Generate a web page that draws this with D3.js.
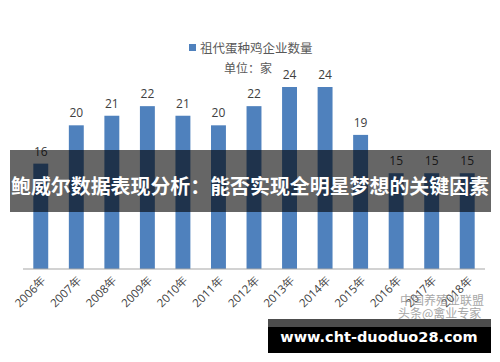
<!DOCTYPE html>
<html>
<head>
<meta charset="utf-8">
<script src="https://cdn.jsdelivr.net/npm/d3@7"></script>
<style>
  body { margin: 0; background: #fff; }
  svg { display: block; }
</style>
</head>
<body>
<div id="chart"></div>
<script>
var years = ["2006年", "2007年", "2008年", "2009年", "2010年", "2011年", "2012年",
             "2013年", "2014年", "2015年", "2016年", "2017年", "2018年"];
var counts = [16, 20, 21, 22, 21, 20, 22, 24, 24, 19, 15, 15, 15];
var seriesName = "祖代蛋种鸡企业数量";
var unitLabel = "单位：家";
var bannerTitle = "鲍威尔数据表现分析：能否实现全明星梦想的关键因素";
var siteText = "www.cht-duoduo28.com";

var width = 500, height = 362;
var barColor = "#4f81bd";
var baseY = 269;

var svg = d3.select("#chart")
    .append("svg")
    .attr("width", width)
    .attr("height", height);

svg.append("rect")
    .attr("width", width)
    .attr("height", height)
    .attr("fill", "#fff");

var x = d3.scaleBand()
    .domain(years)
    .range([23, 485])
    .paddingInner(0.58)
    .paddingOuter(0.29);

// axis in the source starts at 5, not zero
var y = d3.scaleLinear()
    .domain([5, 24])
    .range([baseY, 87]);

var g = svg.append("g");

g.selectAll("rect.bar")
    .data(counts)
    .enter().append("rect")
    .attr("class", "bar")
    .attr("x", function (d, i) { return x(years[i]); })
    .attr("y", function (d) { return y(d); })
    .attr("width", x.bandwidth())
    .attr("height", function (d) { return baseY - y(d); })
    .attr("fill", barColor);

g.selectAll("text.val")
    .data(counts)
    .enter().append("text")
    .attr("class", "val")
    .attr("x", function (d, i) { return x(years[i]) + x.bandwidth() / 2; })
    .attr("y", function (d) { return y(d) - 8; })
    .attr("text-anchor", "middle")
    .attr("font-family", "Open Sans, sans-serif")
    .attr("font-size", 12)
    .attr("fill", "#404040")
    .text(function (d) { return d; });

// baseline
var xAxis = d3.axisBottom(x).tickSize(0).tickFormat("");
var axisG = svg.append("g")
    .attr("transform", "translate(0," + baseY + ")")
    .call(xAxis);
axisG.select(".domain").attr("stroke", "#a6a6a6").attr("stroke-width", 1.2)
    .attr("d", "M23,0H485");

svg.selectAll("text.year")
    .data(years)
    .enter().append("text")
    .attr("class", "year")
    .attr("transform", function (d) {
        return "translate(" + (x(d) + x.bandwidth() / 2 + 6) + "," + (baseY + 12) + ") rotate(-45)";
    })
    .attr("text-anchor", "end")
    .attr("font-family", "Open Sans, sans-serif")
    .attr("font-size", 11.5)
    .attr("fill", "#404040")
    .text(function (d) { return d; });

// legend
svg.append("rect")
    .attr("x", 189).attr("y", 44)
    .attr("width", 7).attr("height", 7)
    .attr("fill", barColor);
svg.append("text")
    .attr("x", 200).attr("y", 53)
    .attr("font-family", "Noto Sans CJK SC, sans-serif")
    .attr("font-size", 12.5)
    .attr("fill", "#595959")
    .text(seriesName);
svg.append("text")
    .attr("x", 248).attr("y", 73)
    .attr("text-anchor", "middle")
    .attr("font-family", "Noto Sans CJK SC, sans-serif")
    .attr("font-size", 12)
    .attr("fill", "#595959")
    .text(unitLabel);

// overlay banner
svg.append("rect")
    .attr("x", 10).attr("y", 150)
    .attr("width", 481).attr("height", 62)
    .attr("fill", "rgba(0,0,0,0.6)");
svg.append("text")
    .attr("x", 250).attr("y", 194)
    .attr("text-anchor", "middle")
    .attr("font-family", "Noto Sans CJK SC, sans-serif")
    .attr("font-weight", "bold")
    .attr("font-size", 20)
    .attr("textLength", 478)
    .attr("lengthAdjust", "spacingAndGlyphs")
    .attr("fill", "#fff")
    .text(bannerTitle);

// watermark
svg.append("text")
    .attr("x", 400).attr("y", 305)
    .attr("font-family", "Noto Sans CJK SC, sans-serif")
    .attr("font-size", 12)
    .attr("fill", "#8a8a8a")
    .attr("opacity", 0.75)
    .text("中国养殖业联盟");
svg.append("text")
    .attr("x", 398).attr("y", 318)
    .attr("font-family", "Noto Sans CJK SC, sans-serif")
    .attr("font-size", 12)
    .attr("fill", "#8a8a8a")
    .attr("opacity", 0.75)
    .text("头条@禽业专家");

// site banner
svg.append("rect")
    .attr("x", 268).attr("y", 319)
    .attr("width", 223).attr("height", 34)
    .attr("fill", "#000");
svg.append("rect")
    .attr("x", 268).attr("y", 319)
    .attr("width", 223).attr("height", 8)
    .attr("fill", "#4d4d4d");
svg.append("text")
    .attr("x", 379).attr("y", 342)
    .attr("text-anchor", "middle")
    .attr("font-family", "DejaVu Sans, sans-serif")
    .attr("font-weight", "bold")
    .attr("font-size", 14.5)
    .attr("fill", "#fff")
    .text(siteText);
</script>
</body>
</html>
